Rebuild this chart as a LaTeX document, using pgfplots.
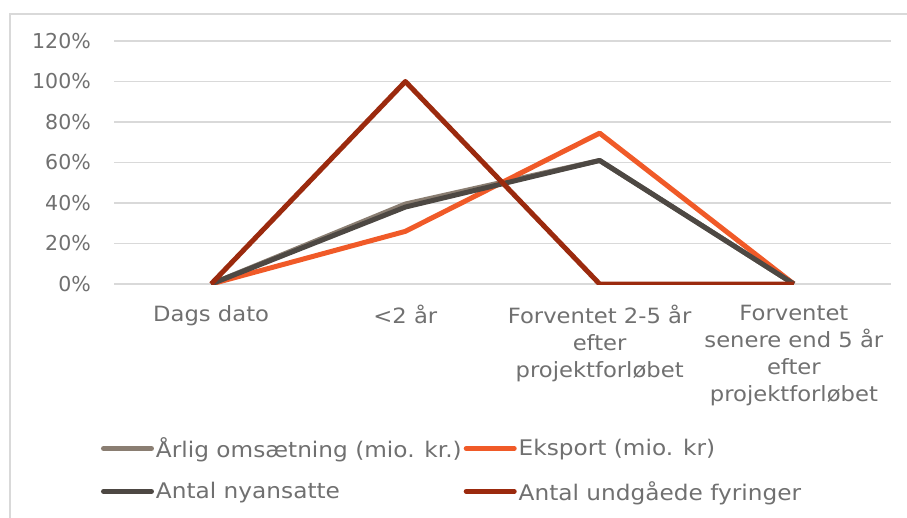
\documentclass[border=0pt]{standalone}
\usepackage{fontspec}
\setmainfont[FakeStretch=1.08]{DejaVu Sans}
\newfontfamily\tickfont{DejaVu Sans}
\usepackage{pgfplots}
\pgfplotsset{compat=1.18}

\definecolor{omsa}{HTML}{8A7E72}
\definecolor{eksp}{HTML}{F05A28}
\definecolor{nyan}{HTML}{4D4843}
\definecolor{fyr}{HTML}{9B2A0E}
\definecolor{txt}{HTML}{707070}
\definecolor{gridc}{HTML}{D9D9D9}

\begin{document}
\begin{tikzpicture}[x=1pt,y=1pt]
\path[use as bounding box] (0,0) rectangle (907,-518);
\draw[color=gridc, line width=1.5pt] (10,-530) -- (10,-14) -- (920,-14);
\begin{axis}[
    at={(114pt,-284pt)}, anchor=south west,
    scale only axis,
    width=777pt, height=243pt,
    xmin=-0.5, xmax=3.5,
    ymin=0, ymax=120,
    ytick={0,20,...,120},
    xtick={0,1,2,3},
    xticklabels={Dags dato, {<2 år}, {Forventet 2-5 år\\efter\\projektforløbet}, {Forventet\\senere end 5 år\\efter\\projektforløbet}},
    yticklabel={\pgfmathprintnumber{\tick}\%},
    /pgf/number format/assume math mode=true,
    axis line style={draw=none},
    major tick length=0pt,
    ymajorgrids,
    grid style={color=gridc, line width=1.2pt},
    xticklabel style={font=\fontsize{21}{27}\selectfont, text=txt,
        anchor=north, align=center, inner sep=0pt, yshift=-21pt},
    yticklabel style={font=\tickfont\fontsize{20.5}{24}\selectfont, text=txt,
        anchor=east, inner sep=0pt, xshift=-23pt},
    legend columns=2,
    legend style={at={(axis description cs:-0.017,-0.632)}, anchor=north west,
        draw=none, fill=none, font=\fontsize{21.5}{24}\selectfont, text=txt,
        inner sep=0pt, row sep=22pt, column sep=0pt,
        nodes={inner xsep=2pt, inner ysep=0pt}},
    legend cell align=left,
    legend image code/.code={\draw[#1, line width=5pt, line cap=round] (0pt,0pt) -- (48pt,0pt);},
    every axis plot/.append style={line width=5pt, line join=round},
]
\addplot[color=omsa] coordinates {(0,0) (1,39.5) (2,61) (3,0)};
\addlegendentry{Årlig omsætning (mio. kr.)}
\addplot[color=eksp] coordinates {(0,0) (1,26) (2,74.5) (3,0)};
\addlegendentry{Eksport (mio. kr)}
\addplot[color=nyan] coordinates {(0,0) (1,38) (2,61) (3,0)};
\addlegendentry{Antal nyansatte}
\addplot[color=fyr] coordinates {(0,0) (1,100) (2,0) (3,0)};
\addlegendentry{Antal undgåede fyringer}
\end{axis}
\end{tikzpicture}
\end{document}
